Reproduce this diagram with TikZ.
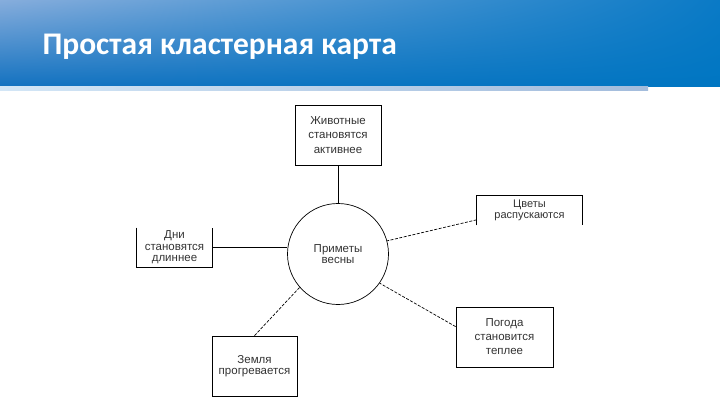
\documentclass[tikz,border=0pt]{standalone}
\usepackage{fontspec}
\setmainfont{Liberation Sans}
\newfontfamily\titlefont{Carlito}
\usetikzlibrary{positioning,shadings}
\definecolor{hdrblue}{HTML}{0076C2}
\definecolor{hdrlight}{HTML}{86ADDC}
\definecolor{hdrmid}{HTML}{1472C0}
\definecolor{hdrtop}{HTML}{0A7AC6}
\definecolor{striplight}{HTML}{D3E6F6}
\definecolor{stripdark}{HTML}{A3BCDC}
\begin{document}
\begin{tikzpicture}[
    x=1pt, y=1pt,
    box/.style={draw, line width=0.7pt, font=\fontsize{11.5}{12}\selectfont, text=black!80, align=center, inner sep=2pt},
    openbox/.style={box, draw=none},
    hub/.style={circle, draw, line width=0.7pt, minimum size=101pt, font=\fontsize{11.5}{11.5}\selectfont, text=black!80, align=center},
    link/.style={line width=0.7pt},
    dlink/.style={link, dash pattern=on 3pt off 1.5pt},
  ]
    \useasboundingbox (0,0) rectangle (720,-405);
    % header
    \shade[upper left=hdrlight, upper right=hdrtop, lower left=hdrmid, lower right=hdrblue] (0,0) rectangle (720,-86);
    \shade[left color=striplight, right color=stripdark] (0,-86) rectangle (648,-90);
    \node[anchor=base west, text=white, font=\titlefont\bfseries\fontsize{31.5}{34}\selectfont] (title) at (39,-54) {Простая кластерная карта};
    % cluster
    \node[hub] (vesna) at (338,-254) {Приметы\\весны};
    \node[box, minimum width=86pt, minimum height=60pt, font=\fontsize{11.5}{14.5}\selectfont] (zhivot) at (338,-135) {Животные\\становятся\\активнее};
    \node[openbox, minimum width=75pt, minimum height=39pt, font=\fontsize{11.5}{11.5}\selectfont] (dni) at (174.5,-247.5) {Дни\\становятся\\длиннее};
    \node[openbox, minimum width=105pt, minimum height=29pt, font=\fontsize{11}{10.5}\selectfont] (cvety) at (529.5,-210.5) {Цветы\\распускаются};
    \node[box, minimum width=85pt, minimum height=60pt, font=\fontsize{11.5}{10.5}\selectfont] (zemlya) at (254.5,-366) {Земля\\прогревается};
    \node[box, minimum width=97pt, minimum height=60pt, font=\fontsize{11.5}{14}\selectfont] (pogoda) at (504.5,-337) {Погода\\становится\\теплее};
    % open sides
    \draw[link] (dni.north west) -- (dni.south west) -- (dni.south east) -- (dni.north east);
    \draw[link] (cvety.south west) -- (cvety.north west) -- (cvety.north east) -- (cvety.south east);
    % connectors
    \draw[link] (zhivot.south) -- (vesna.north);
    \draw[link] (dni.east) -- (dni.east -| vesna.west);
    \draw[dlink] (cvety.190) -- (vesna.15);
    \draw[dlink] (zemlya.north) -- (vesna.221);
    \draw[dlink] (pogoda.168) -- (vesna.325);
\end{tikzpicture}
\end{document}
